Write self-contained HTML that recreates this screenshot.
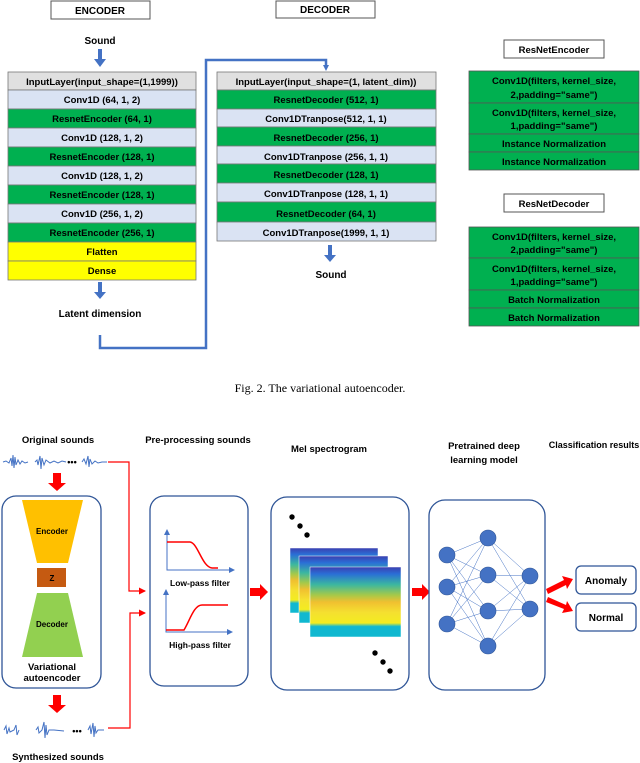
<!DOCTYPE html>
<html><head><meta charset="utf-8"><style>
html,body{margin:0;padding:0;background:#fff;}
svg{display:block;}
text{font-family:"Liberation Sans",sans-serif;font-weight:bold;}
</style></head><body>
<svg width="640" height="763" viewBox="0 0 640 763" xmlns="http://www.w3.org/2000/svg">
<defs>
<marker id="bh" markerWidth="6" markerHeight="6" refX="3" refY="3" orient="auto-start-reverse" markerUnits="userSpaceOnUse"><path d="M0,0 L6,3 L0,6z" fill="#4472c4"/></marker>
<marker id="rh" markerWidth="7" markerHeight="7" refX="6" refY="3.5" orient="auto" markerUnits="userSpaceOnUse"><path d="M0,0 L7,3.5 L0,7z" fill="#f00"/></marker>
</defs>
<!-- ENCODER -->
<rect x="51" y="1" width="99" height="18" fill="#fff" stroke="#555" stroke-width="1"/>
<text x="100" y="14" font-size="10" text-anchor="middle">ENCODER</text>
<text x="100" y="44" font-size="10" text-anchor="middle">Sound</text>
<path d="M98,49 h4 v10 h4 l-6,8 l-6,-8 h4z" fill="#4472c4"/>
<g font-size="9.5" text-anchor="middle" stroke="#777" stroke-width="0.8">
<rect x="8" y="72" width="188" height="18" fill="#e0e0e0"/>
<rect x="8" y="90" width="188" height="19" fill="#dae3f3"/>
<rect x="8" y="109" width="188" height="19" fill="#00b050"/>
<rect x="8" y="128" width="188" height="19" fill="#dae3f3"/>
<rect x="8" y="147" width="188" height="19" fill="#00b050"/>
<rect x="8" y="166" width="188" height="19" fill="#dae3f3"/>
<rect x="8" y="185" width="188" height="19" fill="#00b050"/>
<rect x="8" y="204" width="188" height="19" fill="#dae3f3"/>
<rect x="8" y="223" width="188" height="19" fill="#00b050"/>
<rect x="8" y="242" width="188" height="19" fill="#ffff00"/>
<rect x="8" y="261" width="188" height="19" fill="#ffff00"/>
</g>
<g font-size="9.5" text-anchor="middle">
<text x="102" y="85">InputLayer(input_shape=(1,1999))</text>
<text x="102" y="103">Conv1D (64, 1, 2)</text>
<text x="102" y="122">ResnetEncoder (64, 1)</text>
<text x="102" y="141">Conv1D (128, 1, 2)</text>
<text x="102" y="160">ResnetEncoder (128, 1)</text>
<text x="102" y="179">Conv1D (128, 1, 2)</text>
<text x="102" y="198">ResnetEncoder (128, 1)</text>
<text x="102" y="217">Conv1D (256, 1, 2)</text>
<text x="102" y="236">ResnetEncoder (256, 1)</text>
<text x="102" y="255">Flatten</text>
<text x="102" y="274">Dense</text>
</g>
<path d="M98,282 h4 v10 h4 l-6,7 l-6,-7 h4z" fill="#4472c4"/>
<text x="100" y="317" font-size="10" text-anchor="middle">Latent dimension</text>
<polyline points="100,335 100,348 206,348 206,60 326,60 326,68" fill="none" stroke="#4472c4" stroke-width="2.5" marker-end="url(#bh)"/>
<!-- DECODER -->
<rect x="276" y="1" width="99" height="17" fill="#fff" stroke="#555"/>
<text x="325" y="13" font-size="10" text-anchor="middle">DECODER</text>
<g stroke="#777" stroke-width="0.8">
<rect x="217" y="72" width="219" height="18" fill="#e0e0e0"/>
<rect x="217" y="90" width="219" height="19" fill="#00b050"/>
<rect x="217" y="109" width="219" height="18" fill="#dae3f3"/>
<rect x="217" y="127" width="219" height="19" fill="#00b050"/>
<rect x="217" y="146" width="219" height="18" fill="#dae3f3"/>
<rect x="217" y="164" width="219" height="19" fill="#00b050"/>
<rect x="217" y="183" width="219" height="19" fill="#dae3f3"/>
<rect x="217" y="202" width="219" height="20" fill="#00b050"/>
<rect x="217" y="222" width="219" height="19" fill="#dae3f3"/>
</g>
<g font-size="9.5" text-anchor="middle">
<text x="326" y="85">InputLayer(input_shape=(1, latent_dim))</text>
<text x="326" y="103">ResnetDecoder (512, 1)</text>
<text x="326" y="122">Conv1DTranpose(512, 1, 1)</text>
<text x="326" y="141">ResnetDecoder (256, 1)</text>
<text x="326" y="160">Conv1DTranpose (256, 1, 1)</text>
<text x="326" y="178">ResnetDecoder (128, 1)</text>
<text x="326" y="197">Conv1DTranpose (128, 1, 1)</text>
<text x="326" y="217">ResnetDecoder (64, 1)</text>
<text x="326" y="236">Conv1DTranpose(1999, 1, 1)</text>
</g>
<path d="M328,245 h4 v10 h4 l-6,7 l-6,-7 h4z" fill="#4472c4"/>
<text x="331" y="278" font-size="10" text-anchor="middle">Sound</text>
<!-- ResNet blocks -->
<rect x="504" y="40" width="100" height="18" fill="#fff" stroke="#555"/>
<text x="554" y="53" font-size="9.5" text-anchor="middle">ResNetEncoder</text>
<g fill="#00b050" stroke="#555" stroke-width="0.8">
<rect x="469" y="71" width="170" height="32"/><rect x="469" y="103" width="170" height="31"/>
<rect x="469" y="134" width="170" height="18"/><rect x="469" y="152" width="170" height="18"/>
<rect x="469" y="227" width="170" height="31"/><rect x="469" y="258" width="170" height="32"/>
<rect x="469" y="290" width="170" height="18"/><rect x="469" y="308" width="170" height="18"/>
</g>
<rect x="504" y="194" width="100" height="18" fill="#fff" stroke="#555"/>
<text x="554" y="207" font-size="9.5" text-anchor="middle">ResNetDecoder</text>
<g font-size="9.5" text-anchor="middle">
<text x="554" y="84">Conv1D(filters, kernel_size,</text><text x="554" y="98">2,padding="same")</text>
<text x="554" y="116">Conv1D(filters, kernel_size,</text><text x="554" y="129">1,padding="same")</text>
<text x="554" y="147">Instance Normalization</text>
<text x="554" y="165">Instance Normalization</text>
<text x="554" y="240">Conv1D(filters, kernel_size,</text><text x="554" y="253">2,padding="same")</text>
<text x="554" y="272">Conv1D(filters, kernel_size,</text><text x="554" y="285">1,padding="same")</text>
<text x="554" y="303">Batch Normalization</text>
<text x="554" y="321">Batch Normalization</text>
</g>
<text x="320" y="392" font-size="12" text-anchor="middle" style="font-family:'Liberation Serif',serif;font-weight:normal">Fig. 2.  The variational autoencoder.</text>

<!-- Bottom -->
<g font-size="9.5" text-anchor="middle">
<text x="58" y="443">Original sounds</text>
<text x="198" y="443">Pre-processing sounds</text>
<text x="329" y="452">Mel spectrogram</text>
<text x="484" y="449">Pretrained deep</text>
<text x="484" y="463">learning model</text>
<text x="594" y="448" font-size="9">Classification results</text>
<text x="58" y="760">Synthesized sounds</text>
</g>
<!-- waveforms -->
<g stroke="#4472c4" stroke-width="1" fill="none">
<polyline points="3,462 6,461 9,463 11,458 12,466 13,455 14,468 15,457 16,465 18,460 20,464 22,461 25,463 28,462"/>
<polyline points="35,462 37,460 38,465 40,456 41,469 42,458 44,465 46,460 50,463 54,461 58,463 62,461 66,462"/>
<polyline points="82,462 84,459 86,464 88,456 89,467 90,459 92,464 95,461 98,463 102,462 107,462"/>
<polyline points="4,730 6,726 7,734 9,728 10,732 14,730 16,725 17,735 19,730"/>
<polyline points="36,730 38,727 39,733 42,730 44,722 45,738 46,725 47,735 49,730 54,730 64,731"/>
<polyline points="88,730 90,726 91,734 93,723 94,737 95,726 96,733 98,730 104,730"/>
</g>
<text x="72" y="465" font-size="9" text-anchor="middle">•••</text>
<text x="77" y="734" font-size="9" text-anchor="middle">•••</text>
<!-- red arrows -->
<path d="M53,473 h8 v10 h5 l-9,8 l-9,-8 h5z" fill="#f00"/>
<path d="M53,695 h8 v10 h5 l-9,8 l-9,-8 h5z" fill="#f00"/>
<polyline points="108,462 129,462 129,591 145,591" fill="none" stroke="#f00" stroke-width="1.2" marker-end="url(#rh)"/>
<polyline points="108,728 130,728 130,613 145,613" fill="none" stroke="#f00" stroke-width="1.2" marker-end="url(#rh)"/>
<!-- VAE box -->
<rect x="2" y="496" width="99" height="192" rx="14" fill="#fff" stroke="#2f5597" stroke-width="1.3"/>
<polygon points="22,500 83,500 68,563 37,563" fill="#ffc000"/>
<rect x="37" y="568" width="29" height="19" fill="#c55a11"/>
<polygon points="37,593 68,593 83,657 22,657" fill="#92d050"/>
<g font-size="8" text-anchor="middle"><text x="52" y="534">Encoder</text><text x="52" y="581">Z</text><text x="52" y="627">Decoder</text></g>
<g font-size="9.5" text-anchor="middle"><text x="52" y="670">Variational</text><text x="52" y="681">autoencoder</text></g>
<!-- preprocess -->
<rect x="150" y="496" width="98" height="190" rx="14" fill="#fff" stroke="#2f5597" stroke-width="1.3"/>
<g stroke="#4472c4" stroke-width="1" fill="none">
<polyline points="167,532 167,570 232,570" marker-end="url(#bh)" marker-start="url(#bh)"/>
<polyline points="166,592 166,632 230,632" marker-end="url(#bh)" marker-start="url(#bh)"/>
</g>
<path d="M167,542 L190,542 C198,543 202,567 212,568 L218,568" fill="none" stroke="#f00" stroke-width="1.5"/>
<path d="M166,630 L184,630 C190,620 194,605 202,605 L228,605" fill="none" stroke="#f00" stroke-width="1.5"/>
<g font-size="8.5" text-anchor="middle"><text x="200" y="586">Low-pass filter</text><text x="200" y="648">High-pass filter</text></g>
<path d="M250,588 h10 v-4 l8,8 l-8,8 v-4 h-10z" fill="#f00"/>
<!-- mel -->
<rect x="271" y="497" width="138" height="193" rx="16" fill="#fff" stroke="#2f5597" stroke-width="1.3"/>
<g fill="#000"><circle cx="292" cy="517" r="2.7"/><circle cx="300" cy="526" r="2.7"/><circle cx="307" cy="535" r="2.7"/>
<circle cx="375" cy="653" r="2.7"/><circle cx="383" cy="662" r="2.7"/><circle cx="390" cy="671" r="2.7"/></g>
<linearGradient id="sg" x1="0" y1="0" x2="0" y2="1">
<stop offset="0" stop-color="#3b3fb0"/><stop offset="0.1" stop-color="#2a6fd6"/><stop offset="0.25" stop-color="#3bb7a0"/><stop offset="0.4" stop-color="#a5c94a"/><stop offset="0.5" stop-color="#f0c030"/><stop offset="0.65" stop-color="#f5e030"/><stop offset="0.8" stop-color="#f3ec20"/><stop offset="0.85" stop-color="#10b8d0"/><stop offset="1" stop-color="#10b8d0"/>
</linearGradient>
<rect x="290" y="548" width="88" height="65" fill="url(#sg)" stroke="#fff" stroke-width="0.5"/>
<rect x="299" y="556" width="89" height="67" fill="url(#sg)" stroke="#fff" stroke-width="0.5"/>
<rect x="310" y="567" width="91" height="70" fill="url(#sg)" stroke="#fff" stroke-width="0.5"/>
<path d="M412,588 h10 v-4 l8,8 l-8,8 v-4 h-10z" fill="#f00"/>
<!-- NN -->
<rect x="429" y="500" width="116" height="190" rx="16" fill="#fff" stroke="#2f5597" stroke-width="1.3"/>
<g stroke="#4472c4" stroke-width="0.5">
<path d="M447,555 L488,538 M447,555 L488,575 M447,555 L488,611 M447,555 L488,646 M447,587 L488,538 M447,587 L488,575 M447,587 L488,611 M447,587 L488,646 M447,624 L488,538 M447,624 L488,575 M447,624 L488,611 M447,624 L488,646 M488,538 L530,576 M488,538 L530,609 M488,575 L530,576 M488,575 L530,609 M488,611 L530,576 M488,611 L530,609 M488,646 L530,576 M488,646 L530,609"/>
</g>
<g fill="#4472c4" stroke="#2f5597" stroke-width="0.6">
<circle cx="447" cy="555" r="8"/><circle cx="447" cy="587" r="8"/><circle cx="447" cy="624" r="8"/>
<circle cx="488" cy="538" r="8"/><circle cx="488" cy="575" r="8"/><circle cx="488" cy="611" r="8"/><circle cx="488" cy="646" r="8"/>
<circle cx="530" cy="576" r="8"/><circle cx="530" cy="609" r="8"/>
</g>
<path d="M546,589 L564,580 L562,576 L573,579 L567,589 L566,585 L548,594z" fill="#f00"/>
<path d="M546,602 L548,597 L566,605 L567,601 L573,611 L562,613 L564,609z" fill="#f00"/>
<rect x="576" y="566" width="60" height="28" rx="5" fill="#fff" stroke="#2f5597" stroke-width="1.3"/>
<rect x="576" y="603" width="60" height="28" rx="5" fill="#fff" stroke="#2f5597" stroke-width="1.3"/>
<g font-size="10" text-anchor="middle"><text x="606" y="584">Anomaly</text><text x="606" y="621">Normal</text></g>
</svg>
</body></html>
